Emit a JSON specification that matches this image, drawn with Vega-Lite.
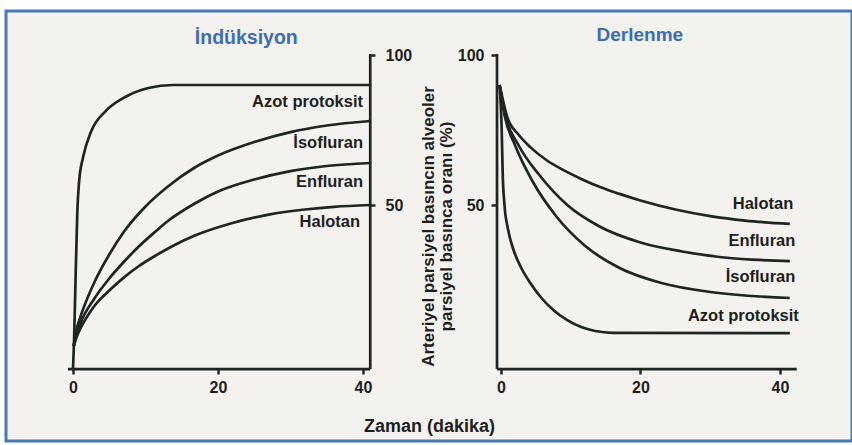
{
  "$schema": "https://vega.github.io/schema/vega-lite/v6.json",
  "width": 846,
  "height": 430,
  "autosize": {"type": "none"},
  "padding": {"left": 6, "top": 11, "right": 0, "bottom": 4},
  "background": "#ffffff",
  "config": {
    "view": {"fill": "#f3f2ee", "stroke": "#4a78b5", "strokeWidth": 3},
    "font": "Liberation Sans",
    "axis": {"grid": false, "labelFont": "Liberation Sans", "labelFontWeight": "bold", "labelFontSize": 16, "labelColor": "#1e1e1e", "tickColor": "#222826", "tickWidth": 2.5, "labelFlush": false, "titleFont": "Liberation Sans", "titleColor": "#1e1e1e"}
  },
  "datasets": {
    "curves": [
      {"panel": "L", "agent": "Azot protoksit", "t": 0, "v": -4.7},
      {"panel": "L", "agent": "Azot protoksit", "t": 0.15, "v": 5},
      {"panel": "L", "agent": "Azot protoksit", "t": 0.35, "v": 25},
      {"panel": "L", "agent": "Azot protoksit", "t": 0.6, "v": 48},
      {"panel": "L", "agent": "Azot protoksit", "t": 0.85, "v": 58},
      {"panel": "L", "agent": "Azot protoksit", "t": 1.4, "v": 66},
      {"panel": "L", "agent": "Azot protoksit", "t": 2.5, "v": 74.5},
      {"panel": "L", "agent": "Azot protoksit", "t": 4.5, "v": 81.3},
      {"panel": "L", "agent": "Azot protoksit", "t": 7.2, "v": 86},
      {"panel": "L", "agent": "Azot protoksit", "t": 10.4, "v": 89},
      {"panel": "L", "agent": "Azot protoksit", "t": 13.8, "v": 90},
      {"panel": "L", "agent": "Azot protoksit", "t": 41, "v": 90},
      {"panel": "L", "agent": "İsofluran", "t": 0.1, "v": 3},
      {"panel": "L", "agent": "İsofluran", "t": 0.4, "v": 7.5},
      {"panel": "L", "agent": "İsofluran", "t": 1, "v": 12.5},
      {"panel": "L", "agent": "İsofluran", "t": 2, "v": 19},
      {"panel": "L", "agent": "İsofluran", "t": 3, "v": 24.5},
      {"panel": "L", "agent": "İsofluran", "t": 5, "v": 33.5},
      {"panel": "L", "agent": "İsofluran", "t": 7, "v": 41},
      {"panel": "L", "agent": "İsofluran", "t": 10, "v": 49.5},
      {"panel": "L", "agent": "İsofluran", "t": 13, "v": 56},
      {"panel": "L", "agent": "İsofluran", "t": 16.8, "v": 62.5},
      {"panel": "L", "agent": "İsofluran", "t": 20, "v": 66.5},
      {"panel": "L", "agent": "İsofluran", "t": 25, "v": 71},
      {"panel": "L", "agent": "İsofluran", "t": 30, "v": 74.3},
      {"panel": "L", "agent": "İsofluran", "t": 35, "v": 76.5},
      {"panel": "L", "agent": "İsofluran", "t": 41, "v": 78},
      {"panel": "L", "agent": "Enfluran", "t": 0.1, "v": 3},
      {"panel": "L", "agent": "Enfluran", "t": 0.4, "v": 6.5},
      {"panel": "L", "agent": "Enfluran", "t": 1, "v": 10.5},
      {"panel": "L", "agent": "Enfluran", "t": 3, "v": 19},
      {"panel": "L", "agent": "Enfluran", "t": 5, "v": 25.5},
      {"panel": "L", "agent": "Enfluran", "t": 7, "v": 31},
      {"panel": "L", "agent": "Enfluran", "t": 9, "v": 36},
      {"panel": "L", "agent": "Enfluran", "t": 11.3, "v": 41},
      {"panel": "L", "agent": "Enfluran", "t": 13, "v": 44.5},
      {"panel": "L", "agent": "Enfluran", "t": 16.8, "v": 50.5},
      {"panel": "L", "agent": "Enfluran", "t": 20, "v": 54.5},
      {"panel": "L", "agent": "Enfluran", "t": 25, "v": 58.5},
      {"panel": "L", "agent": "Enfluran", "t": 30, "v": 61.3},
      {"panel": "L", "agent": "Enfluran", "t": 35, "v": 63},
      {"panel": "L", "agent": "Enfluran", "t": 41, "v": 64},
      {"panel": "L", "agent": "Halotan", "t": 0.1, "v": 3},
      {"panel": "L", "agent": "Halotan", "t": 0.5, "v": 6},
      {"panel": "L", "agent": "Halotan", "t": 1, "v": 8.8},
      {"panel": "L", "agent": "Halotan", "t": 2, "v": 13},
      {"panel": "L", "agent": "Halotan", "t": 3, "v": 16.5},
      {"panel": "L", "agent": "Halotan", "t": 5, "v": 21.5},
      {"panel": "L", "agent": "Halotan", "t": 7, "v": 25.8},
      {"panel": "L", "agent": "Halotan", "t": 9, "v": 29.5},
      {"panel": "L", "agent": "Halotan", "t": 11.3, "v": 33},
      {"panel": "L", "agent": "Halotan", "t": 13.5, "v": 36},
      {"panel": "L", "agent": "Halotan", "t": 16.8, "v": 39.8},
      {"panel": "L", "agent": "Halotan", "t": 22, "v": 44},
      {"panel": "L", "agent": "Halotan", "t": 27, "v": 46.8},
      {"panel": "L", "agent": "Halotan", "t": 32, "v": 48.5},
      {"panel": "L", "agent": "Halotan", "t": 36, "v": 49.4},
      {"panel": "L", "agent": "Halotan", "t": 41, "v": 50},
      {"panel": "R", "agent": "Azot protoksit", "t": -0.2, "v": 90},
      {"panel": "R", "agent": "Azot protoksit", "t": 0.1, "v": 75},
      {"panel": "R", "agent": "Azot protoksit", "t": 0.25, "v": 60},
      {"panel": "R", "agent": "Azot protoksit", "t": 0.5, "v": 50},
      {"panel": "R", "agent": "Azot protoksit", "t": 1, "v": 42},
      {"panel": "R", "agent": "Azot protoksit", "t": 1.8, "v": 35},
      {"panel": "R", "agent": "Azot protoksit", "t": 2.8, "v": 29.5},
      {"panel": "R", "agent": "Azot protoksit", "t": 4.2, "v": 24},
      {"panel": "R", "agent": "Azot protoksit", "t": 5.8, "v": 19},
      {"panel": "R", "agent": "Azot protoksit", "t": 7.5, "v": 15},
      {"panel": "R", "agent": "Azot protoksit", "t": 9.5, "v": 11.6},
      {"panel": "R", "agent": "Azot protoksit", "t": 11.5, "v": 9.3},
      {"panel": "R", "agent": "Azot protoksit", "t": 13.5, "v": 8},
      {"panel": "R", "agent": "Azot protoksit", "t": 16, "v": 7.4},
      {"panel": "R", "agent": "Azot protoksit", "t": 41.4, "v": 7.3},
      {"panel": "R", "agent": "Halotan", "t": -0.2, "v": 90},
      {"panel": "R", "agent": "Halotan", "t": 0.9, "v": 79.3},
      {"panel": "R", "agent": "Halotan", "t": 2.5, "v": 73.5},
      {"panel": "R", "agent": "Halotan", "t": 4.2, "v": 69.3},
      {"panel": "R", "agent": "Halotan", "t": 6.5, "v": 65},
      {"panel": "R", "agent": "Halotan", "t": 8.9, "v": 61.7},
      {"panel": "R", "agent": "Halotan", "t": 11.5, "v": 58.7},
      {"panel": "R", "agent": "Halotan", "t": 14.2, "v": 56},
      {"panel": "R", "agent": "Halotan", "t": 17, "v": 53.7},
      {"panel": "R", "agent": "Halotan", "t": 20, "v": 51.5},
      {"panel": "R", "agent": "Halotan", "t": 25, "v": 48.5},
      {"panel": "R", "agent": "Halotan", "t": 30, "v": 46.3},
      {"panel": "R", "agent": "Halotan", "t": 35, "v": 44.8},
      {"panel": "R", "agent": "Halotan", "t": 41.4, "v": 43.7},
      {"panel": "R", "agent": "Enfluran", "t": -0.2, "v": 90},
      {"panel": "R", "agent": "Enfluran", "t": 0.6, "v": 80},
      {"panel": "R", "agent": "Enfluran", "t": 2.5, "v": 70},
      {"panel": "R", "agent": "Enfluran", "t": 5.5, "v": 60},
      {"panel": "R", "agent": "Enfluran", "t": 9.5, "v": 50},
      {"panel": "R", "agent": "Enfluran", "t": 14, "v": 43},
      {"panel": "R", "agent": "Enfluran", "t": 20, "v": 37.5},
      {"panel": "R", "agent": "Enfluran", "t": 26, "v": 34.5},
      {"panel": "R", "agent": "Enfluran", "t": 32, "v": 32.5},
      {"panel": "R", "agent": "Enfluran", "t": 41.4, "v": 31.3},
      {"panel": "R", "agent": "İsofluran", "t": -0.2, "v": 90},
      {"panel": "R", "agent": "İsofluran", "t": 0.5, "v": 80},
      {"panel": "R", "agent": "İsofluran", "t": 2, "v": 70},
      {"panel": "R", "agent": "İsofluran", "t": 4.5, "v": 58},
      {"panel": "R", "agent": "İsofluran", "t": 8, "v": 46},
      {"panel": "R", "agent": "İsofluran", "t": 12, "v": 36.5},
      {"panel": "R", "agent": "İsofluran", "t": 17, "v": 29},
      {"panel": "R", "agent": "İsofluran", "t": 23, "v": 24},
      {"panel": "R", "agent": "İsofluran", "t": 30, "v": 21},
      {"panel": "R", "agent": "İsofluran", "t": 41.4, "v": 19}
    ],
    "labels": [
      {"panel": "L", "label": "Azot protoksit", "t": 40, "v": 84.3},
      {"panel": "L", "label": "İsofluran", "t": 40, "v": 70.7},
      {"panel": "L", "label": "Enfluran", "t": 40, "v": 57.7},
      {"panel": "L", "label": "Halotan", "t": 39.6, "v": 44.3},
      {"panel": "R", "label": "Halotan", "t": 41.9, "v": 50.3},
      {"panel": "R", "label": "Enfluran", "t": 42.2, "v": 38},
      {"panel": "R", "label": "İsofluran", "t": 42.2, "v": 26},
      {"panel": "R", "label": "Azot protoksit", "t": 42.7, "v": 13}
    ]
  },
  "layer": [
    {
      "data": {"name": "curves"},
      "transform": [{"filter": "datum.panel === 'L'"}],
      "mark": {"type": "line", "interpolate": "monotone", "strokeWidth": 2.7, "color": "#1f2523"},
      "encoding": {
        "x": {"field": "t", "type": "quantitative", "scale": {"domain": [-9.241, 107.448], "nice": false, "zero": false},
          "axis": {"orient": "bottom", "values": [0, 20, 40], "domain": false, "offset": -72, "tickSize": 5, "labelPadding": 5,
            "title": "Zaman (dakika)", "titlePadding": 22, "titleFontSize": 18, "titleFontWeight": "bold"}},
        "y": {"field": "v", "type": "quantitative", "scale": {"domain": [-28.67, 114.67], "nice": false, "zero": false},
          "axis": {"orient": "right", "values": [50, 100], "domain": false, "offset": -482, "tickSize": 5, "labelPadding": 10, "title": null}},
        "detail": {"field": "agent"}
      }
    },
    {
      "data": {"name": "curves"},
      "transform": [{"filter": "datum.panel === 'R'"}],
      "mark": {"type": "line", "interpolate": "monotone", "strokeWidth": 2.7, "color": "#1f2523"},
      "encoding": {
        "x": {"field": "t", "type": "quantitative", "scale": {"domain": [-70.968, 50.323], "nice": false, "zero": false},
          "axis": {"orient": "bottom", "values": [0, 20, 40], "domain": false, "offset": -72, "tickSize": 5, "labelPadding": 5, "title": null}},
        "y": {"field": "v", "type": "quantitative", "scale": {"domain": [-28.67, 114.67], "nice": false, "zero": false},
          "axis": {"orient": "left", "values": [50, 100], "domain": false, "offset": -491, "tickSize": 6, "labelPadding": 7,
            "title": ["Arteriyel parsiyel basıncın alveoler", "parsiyel basınca oranı (%)"], "titleFontSize": 17, "titleFontWeight": "bold", "titleLineHeight": 18, "titlePadding": 2}},
        "detail": {"field": "agent"}
      }
    },
    {
      "data": {"values": [{}]},
      "mark": {"type": "rule", "strokeWidth": 2.7, "color": "#1f2523"},
      "encoding": {
        "x": {"datum": -0.7, "type": "quantitative", "scale": {"domain": [-9.241, 107.448], "nice": false, "zero": false}, "axis": null},
        "x2": {"datum": 41},
        "y": {"datum": -4.7, "type": "quantitative", "scale": {"domain": [-28.67, 114.67], "nice": false, "zero": false}, "axis": null}
      }
    },
    {
      "data": {"values": [{}]},
      "mark": {"type": "rule", "strokeWidth": 2.7, "color": "#1f2523"},
      "encoding": {
        "x": {"datum": 41, "type": "quantitative", "scale": {"domain": [-9.241, 107.448], "nice": false, "zero": false}, "axis": null},
        "y": {"datum": -4.7, "type": "quantitative", "scale": {"domain": [-28.67, 114.67], "nice": false, "zero": false}, "axis": null},
        "y2": {"datum": 100.3}
      }
    },
    {
      "data": {"name": "labels"},
      "transform": [{"filter": "datum.panel === 'L'"}],
      "mark": {"type": "text", "align": "right", "baseline": "middle", "font": "Liberation Sans", "fontWeight": "bold", "fontSize": 16.5, "color": "#1e1e1e"},
      "encoding": {
        "x": {"field": "t", "type": "quantitative", "scale": {"domain": [-9.241, 107.448], "nice": false, "zero": false}, "axis": null},
        "y": {"field": "v", "type": "quantitative", "scale": {"domain": [-28.67, 114.67], "nice": false, "zero": false}, "axis": null},
        "text": {"field": "label"}
      }
    },
    {
      "data": {"values": [{}]},
      "mark": {"type": "text", "text": "İndüksiyon", "align": "center", "baseline": "middle", "font": "Liberation Sans", "fontWeight": "bold", "fontSize": 19.5, "color": "#3d6db1"},
      "encoding": {
        "x": {"datum": 23.9, "type": "quantitative", "scale": {"domain": [-9.241, 107.448], "nice": false, "zero": false}, "axis": null},
        "y": {"datum": 105.7, "type": "quantitative", "scale": {"domain": [-28.67, 114.67], "nice": false, "zero": false}, "axis": null}
      }
    },
    {
      "data": {"values": [{}]},
      "mark": {"type": "rule", "strokeWidth": 2.7, "color": "#1f2523"},
      "encoding": {
        "x": {"datum": -0.57, "type": "quantitative", "scale": {"domain": [-70.968, 50.323], "nice": false, "zero": false}, "axis": null},
        "x2": {"datum": 42.4},
        "y": {"datum": -4.7, "type": "quantitative", "scale": {"domain": [-28.67, 114.67], "nice": false, "zero": false}, "axis": null}
      }
    },
    {
      "data": {"values": [{}]},
      "mark": {"type": "rule", "strokeWidth": 2.7, "color": "#1f2523"},
      "encoding": {
        "x": {"datum": -0.57, "type": "quantitative", "scale": {"domain": [-70.968, 50.323], "nice": false, "zero": false}, "axis": null},
        "y": {"datum": -4.7, "type": "quantitative", "scale": {"domain": [-28.67, 114.67], "nice": false, "zero": false}, "axis": null},
        "y2": {"datum": 100.3}
      }
    },
    {
      "data": {"name": "labels"},
      "transform": [{"filter": "datum.panel === 'R'"}],
      "mark": {"type": "text", "align": "right", "baseline": "middle", "font": "Liberation Sans", "fontWeight": "bold", "fontSize": 16.5, "color": "#1e1e1e"},
      "encoding": {
        "x": {"field": "t", "type": "quantitative", "scale": {"domain": [-70.968, 50.323], "nice": false, "zero": false}, "axis": null},
        "y": {"field": "v", "type": "quantitative", "scale": {"domain": [-28.67, 114.67], "nice": false, "zero": false}, "axis": null},
        "text": {"field": "label"}
      }
    },
    {
      "data": {"values": [{}]},
      "mark": {"type": "text", "text": "Derlenme", "align": "center", "baseline": "middle", "font": "Liberation Sans", "fontWeight": "bold", "fontSize": 19, "color": "#3d6db1"},
      "encoding": {
        "x": {"datum": 19.9, "type": "quantitative", "scale": {"domain": [-70.968, 50.323], "nice": false, "zero": false}, "axis": null},
        "y": {"datum": 106.7, "type": "quantitative", "scale": {"domain": [-28.67, 114.67], "nice": false, "zero": false}, "axis": null}
      }
    }
  ],
  "resolve": {"scale": {"x": "independent"}, "axis": {"x": "independent", "y": "independent"}}
}
